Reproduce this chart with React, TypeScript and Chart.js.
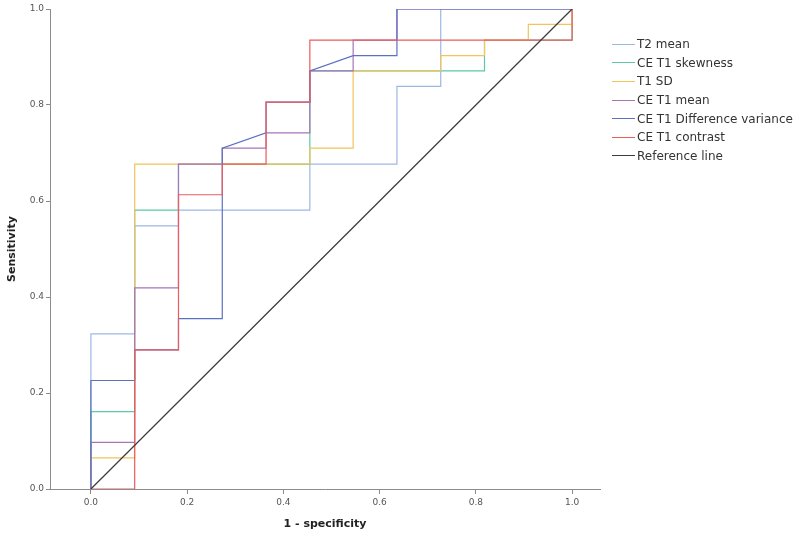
import React, { useEffect, useRef } from 'react';
import { Chart, registerables } from 'chart.js';

Chart.register(...registerables);

// Series names and colours
const seriesNames = [
  'T2 mean',
  'CE T1 skewness',
  'T1 SD',
  'CE T1 mean',
  'CE T1 Difference variance',
  'CE T1 contrast',
  'Reference line',
];
const seriesColors = ['#9db8e3', '#5cc8a8', '#f2c45a', '#a874b8', '#5b71c2', '#ec5c5c', '#3c3c3c'];

// ROC vertices (1 - specificity, sensitivity)
const t2MeanX = [0, 0, 0.091, 0.091, 0.182, 0.182, 0.455, 0.455, 0.636, 0.636, 0.727, 0.727, 1];
const t2MeanY = [0, 0.323, 0.323, 0.548, 0.548, 0.581, 0.581, 0.677, 0.677, 0.839, 0.839, 1, 1];

const skewX = [0, 0, 0.091, 0.091, 0.182, 0.182, 0.455, 0.455, 0.818, 0.818, 1, 1];
const skewY = [0, 0.161, 0.161, 0.581, 0.581, 0.677, 0.677, 0.871, 0.871, 0.935, 0.935, 1];

const sdX = [0, 0, 0.091, 0.091, 0.455, 0.455, 0.545, 0.545, 0.727, 0.727, 0.818, 0.818, 0.909, 0.909, 1, 1];
const sdY = [0, 0.065, 0.065, 0.677, 0.677, 0.71, 0.71, 0.871, 0.871, 0.903, 0.903, 0.935, 0.935, 0.968, 0.968, 1];

const ceMeanX = [0, 0, 0.091, 0.091, 0.182, 0.182, 0.273, 0.273, 0.364, 0.364, 0.455, 0.455, 0.545, 0.545, 0.636, 0.636, 1];
const ceMeanY = [0, 0.097, 0.097, 0.419, 0.419, 0.677, 0.677, 0.71, 0.71, 0.742, 0.742, 0.871, 0.871, 0.935, 0.935, 1, 1];

const diffVarX = [0, 0, 0.091, 0.091, 0.182, 0.182, 0.273, 0.273, 0.364, 0.364, 0.455, 0.455, 0.545, 0.636, 0.636, 1];
const diffVarY = [0, 0.226, 0.226, 0.29, 0.29, 0.355, 0.355, 0.71, 0.742, 0.806, 0.806, 0.871, 0.903, 0.903, 1, 1];

const contrastX = [0, 0.091, 0.091, 0.182, 0.182, 0.273, 0.273, 0.364, 0.364, 0.455, 0.455, 1, 1];
const contrastY = [0, 0, 0.29, 0.29, 0.613, 0.613, 0.677, 0.677, 0.806, 0.806, 0.935, 0.935, 1];

const refX = [0, 1];
const refY = [0, 1];

const seriesX = [t2MeanX, skewX, sdX, ceMeanX, diffVarX, contrastX, refX];
const seriesY = [t2MeanY, skewY, sdY, ceMeanY, diffVarY, contrastY, refY];

const xTicks = [0, 0.2, 0.4, 0.6, 0.8, 1.0];
const yTicks = [0, 0.2, 0.4, 0.6, 0.8, 1.0];

const axisColor = '#8c8c8c';
const tickFont = { family: 'DejaVu Sans', size: 9 };
const titleFont = { family: 'DejaVu Sans', size: 11, weight: 'bold' as const };

export default function App() {
  const canvasRef = useRef<HTMLCanvasElement | null>(null);

  useEffect(() => {
    const canvas = canvasRef.current;
    if (!canvas) return;
    const datasets = seriesNames.map((name, i) => ({
      label: name,
      data: seriesX[i].map((x, j) => ({ x, y: seriesY[i][j] })),
      borderColor: seriesColors[i],
      backgroundColor: seriesColors[i],
      borderWidth: i === 6 ? 1.3 : 1.2,
      pointRadius: 0,
      showLine: true,
      fill: false,
      tension: 0,
      order: 6 - i,
    }));

    const chart = new Chart(canvas, {
      type: 'scatter',
      data: { datasets },
      options: {
        animation: false,
        responsive: false,
        maintainAspectRatio: false,
        layout: { padding: { top: 9, right: 200, bottom: 0, left: 0 } },
        plugins: { legend: { display: false }, tooltip: { enabled: false } },
        scales: {
          x: {
            type: 'linear',
            min: -0.085,
            max: 1.058,
            afterBuildTicks: (s: any) => {
              s.ticks = xTicks.map((v) => ({ value: v }));
            },
            afterFit: (s: any) => {
              s.height = 49;
            },
            grid: { display: true, drawOnChartArea: false, drawTicks: true, tickLength: 5, color: axisColor },
            border: { display: true, color: axisColor },
            ticks: {
              font: tickFont,
              color: '#555',
              padding: 3,
              autoSkip: false,
              maxRotation: 0,
              callback: (v: any) => Number(v).toFixed(1),
            },
            title: {
              display: true,
              text: '1 - specificity',
              font: titleFont,
              color: '#222',
              padding: { top: 4, bottom: 7 },
            },
          },
          y: {
            type: 'linear',
            min: 0,
            max: 1,
            afterBuildTicks: (s: any) => {
              s.ticks = yTicks.map((v) => ({ value: v }));
            },
            afterFit: (s: any) => {
              s.width = 50;
            },
            grid: { display: true, drawOnChartArea: false, drawTicks: true, tickLength: 4, color: axisColor },
            border: { display: true, color: axisColor },
            ticks: {
              font: tickFont,
              color: '#555',
              padding: 2,
              autoSkip: false,
              callback: (v: any) => Number(v).toFixed(1),
            },
            title: {
              display: true,
              text: 'Sensitivity',
              font: titleFont,
              color: '#222',
              padding: { top: 6, bottom: 4 },
            },
          },
        },
      },
    });
    return () => chart.destroy();
  }, []);

  return (
    <div style={{ position: 'absolute', left: 0, top: 0, width: 800, height: 538, background: '#fff' }}>
      <canvas ref={canvasRef} width={800} height={538} style={{ display: 'block' }} />
      <div
        style={{
          position: 'absolute',
          left: 612,
          top: 35,
          fontFamily: '"DejaVu Sans", sans-serif',
          fontSize: 12,
          color: '#333',
        }}
      >
        {seriesNames.map((name, i) => (
          <div key={name} style={{ display: 'flex', alignItems: 'center', height: 18.6, whiteSpace: 'nowrap' }}>
            <span
              style={{
                display: 'inline-block',
                width: 23,
                height: 0,
                borderTop: `1px solid ${seriesColors[i]}`,
                marginRight: 2,
              }}
            />
            <span>{name}</span>
          </div>
        ))}
      </div>
    </div>
  );
}
